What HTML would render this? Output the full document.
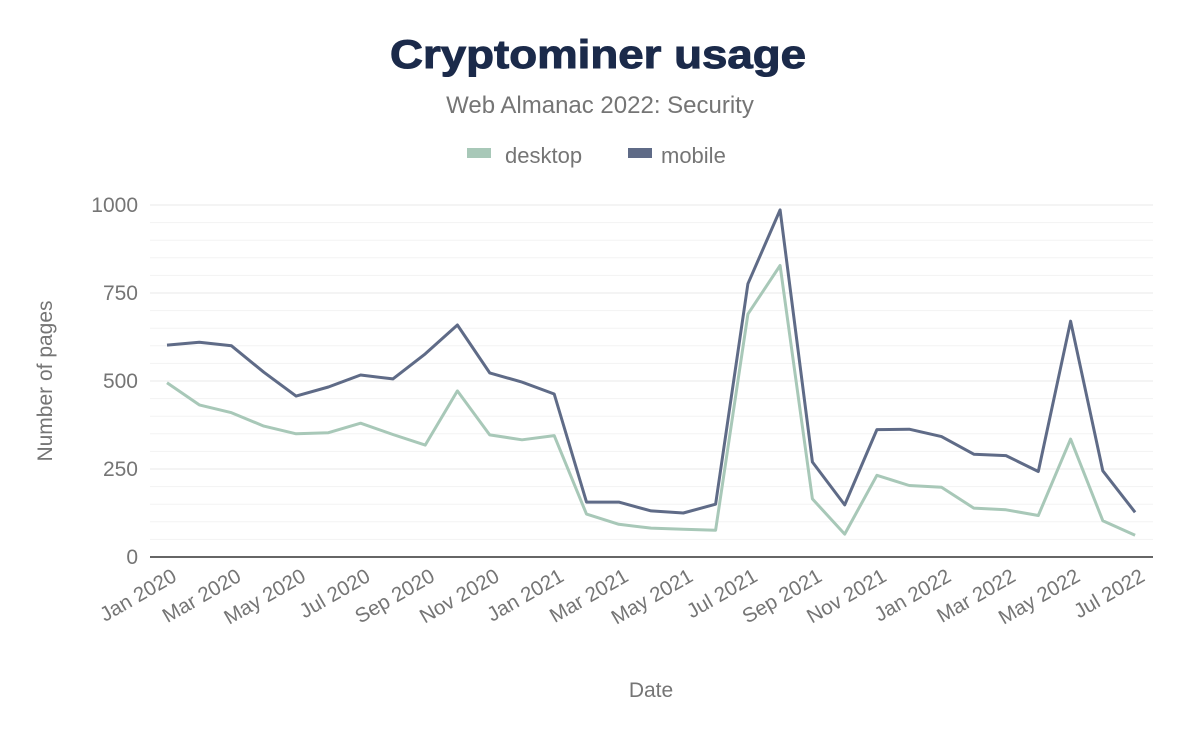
<!DOCTYPE html>
<html><head><meta charset="utf-8"><style>
body{margin:0;background:#fff;width:1200px;height:742px;overflow:hidden;font-family:"Liberation Sans",Arial,sans-serif}
</style></head><body>
<svg width="1200" height="742" xmlns="http://www.w3.org/2000/svg" font-family="Liberation Sans, Arial, sans-serif">
<text x="598" y="68" text-anchor="middle" font-size="40" font-weight="bold" fill="#1b2a4a" textLength="416" lengthAdjust="spacingAndGlyphs" stroke="#1b2a4a" stroke-width="1">Cryptominer usage</text>
<text x="600" y="113" text-anchor="middle" font-size="24" fill="#757575">Web Almanac 2022: Security</text>
<rect x="467" y="148" width="24" height="10" fill="#a8c8b8"/>
<text x="505" y="163" font-size="22" fill="#757575">desktop</text>
<rect x="628" y="148" width="24" height="10" fill="#5f6b87"/>
<text x="661" y="163" font-size="22" fill="#757575">mobile</text>
<g id="grid"></g>
<line x1="150" y1="557" x2="1153" y2="557" stroke="#333" stroke-width="1.5"/>
<g font-size="21" fill="#757575" text-anchor="end">
<text x="138" y="564">0</text><text x="138" y="476">250</text><text x="138" y="388">500</text><text x="138" y="300">750</text><text x="138" y="212">1000</text>
</g>
<text transform="translate(52,381) rotate(-90)" text-anchor="middle" font-size="21" fill="#757575">Number of pages</text>
<text x="651" y="697" text-anchor="middle" font-size="21" fill="#757575">Date</text>
<g id="xl" font-size="20.5" fill="#757575" text-anchor="end"></g>
<polyline id="d" fill="none" stroke="#a8c8b8" stroke-width="3" stroke-linejoin="round"/>
<polyline id="m" fill="none" stroke="#5f6b87" stroke-width="3" stroke-linejoin="round"/>
</svg>
<script>
var ns="http://www.w3.org/2000/svg";
var g=document.getElementById('grid');
for(var v=50;v<=1000;v+=50){var y=557-v*0.352;var l=document.createElementNS(ns,'line');l.setAttribute('x1',150);l.setAttribute('x2',1153);l.setAttribute('y1',y);l.setAttribute('y2',y);l.setAttribute('stroke',v%250==0?'#e8e8e8':'#f3f3f3');l.setAttribute('stroke-width',1);g.appendChild(l);}
var X=function(i){return 167+i*32.27};
var labs=['Jan 2020','Mar 2020','May 2020','Jul 2020','Sep 2020','Nov 2020','Jan 2021','Mar 2021','May 2021','Jul 2021','Sep 2021','Nov 2021','Jan 2022','Mar 2022','May 2022','Jul 2022'];
var xl=document.getElementById('xl');
labs.forEach(function(s,k){var x=X(k*2);var t=document.createElementNS(ns,'text');t.setAttribute('transform','translate('+(x+11)+',580) rotate(-30)');t.textContent=s;xl.appendChild(t);});
var D=[495,432,410,372,350,353,380,348,318,472,347,333,345,122,93,82,79,76,690,828,165,65,232,203,198,139,134,118,335,103,62];
var M=[602,610,600,525,457,483,517,506,577,659,523,497,463,156,156,131,125,150,776,986,270,148,362,363,342,292,288,243,670,245,127];
function pts(a){return a.map(function(v,i){return X(i).toFixed(1)+','+(557-v*0.352).toFixed(1)}).join(' ')}
document.getElementById('d').setAttribute('points',pts(D));
document.getElementById('m').setAttribute('points',pts(M));
</script>
</body></html>
